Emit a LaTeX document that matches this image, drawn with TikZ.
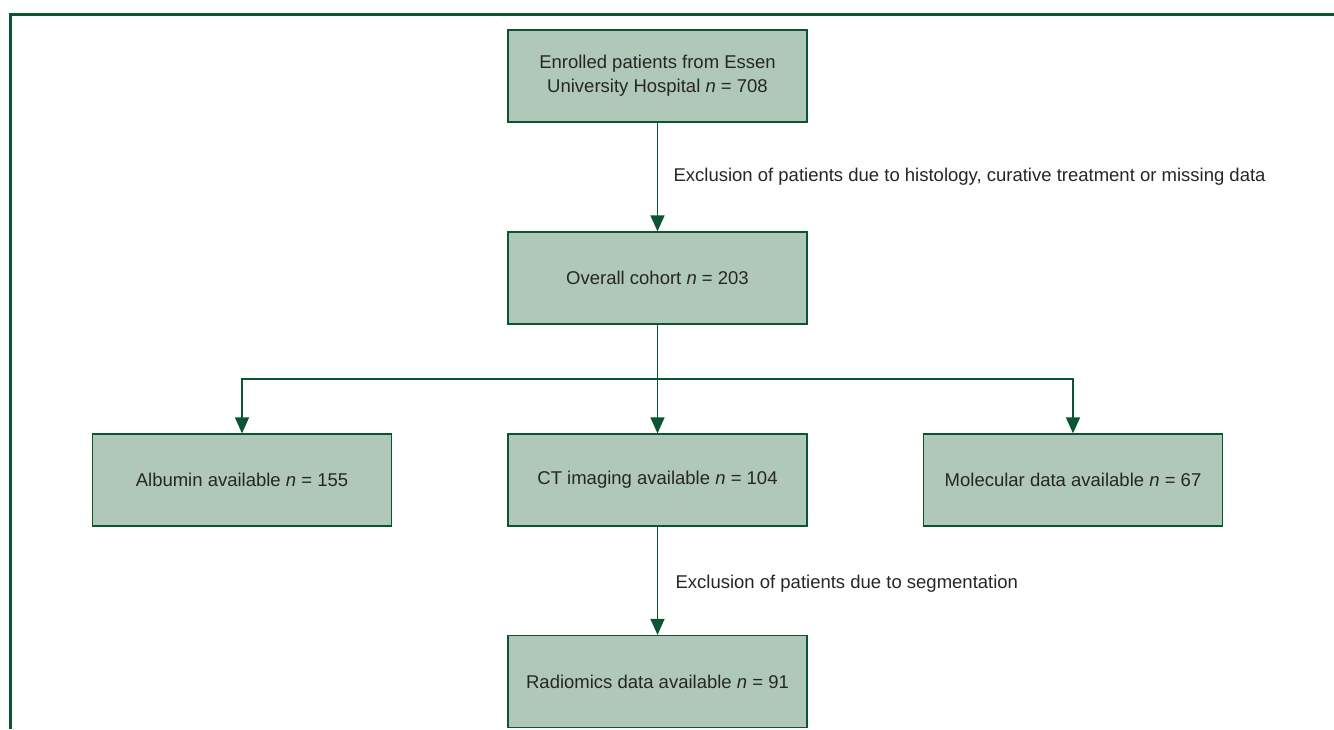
\documentclass[tikz,border=0pt]{standalone}
\usepackage{fontspec}
\setmainfont{Liberation Sans}
\usepackage{tikz}
\usetikzlibrary{arrows.meta}
\definecolor{boxfill}{HTML}{B0C8B8}
\definecolor{darkgreen}{HTML}{0B5530}
\definecolor{txt}{HTML}{262626}
\newcommand{\nn}{\textit{n}}
\tikzset{
  stage/.style={draw=darkgreen, fill=boxfill, line width=1.3pt,
    minimum width=299pt, minimum height=92pt, align=center,
    text=txt, font=\fontsize{18.5}{24}\selectfont},
  conn/.style={draw=darkgreen, line width=1.5pt,
    -{Triangle[width=14pt,length=16pt]}},
  note/.style={anchor=west, text=txt, font=\fontsize{18.5}{24}\selectfont}
}
\begin{document}
\begin{tikzpicture}[x=1pt,y=-1pt]
    \useasboundingbox (0,0) rectangle (1334,729);
    \draw [darkgreen, line width=3pt] (10,729) -- (10,14) -- (1334,14);
    \node [stage] (enrolled) at (657.5,76) {Enrolled patients from Essen\\
      University Hospital \nn{} = 708};
    \node [stage] (cohort) at (657.5,278) {Overall cohort \nn{} = 203};
    \node [stage] (albumin) at (242,480) {Albumin available \nn{} = 155};
    \node [stage] (ct) at (657.5,480) {CT imaging available \nn{} = 104};
    \node [stage] (molecular) at (1073,480) {Molecular data available \nn{} = 67};
    \node [stage] (radiomics) at (657.5,681.5) {Radiomics data available \nn{} = 91};
    \coordinate (split) at (657.5,379);
    \draw [conn] (enrolled) to node [note, pos=0.5, xshift=12pt]
      {Exclusion of patients due to histology, curative treatment or missing data} (cohort);
    \draw [conn] (cohort) to (ct);
    \draw [conn] (split) -| (albumin);
    \draw [conn] (split) -| (molecular);
    \draw [conn] (ct) to node [note, pos=0.5, xshift=14pt, yshift=-3pt]
      {Exclusion of patients due to segmentation} (radiomics);
  \end{tikzpicture}
\end{document}
